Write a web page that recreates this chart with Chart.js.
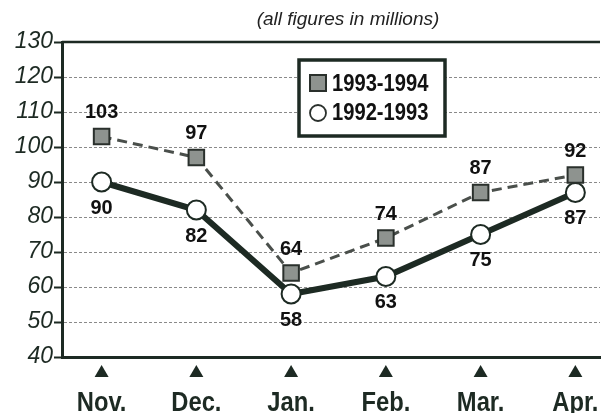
<!DOCTYPE html>
<html>
<head>
<meta charset="utf-8">
<script src="https://cdn.jsdelivr.net/npm/chart.js@4.4.0/dist/chart.umd.min.js"></script>
<style>
  body { margin: 0; background: #fff; }
  canvas { display: block; }
</style>
</head>
<body>
<canvas id="chart" width="613" height="413"></canvas>
<script>
const months = ['Nov.', 'Dec.', 'Jan.', 'Feb.', 'Mar.', 'Apr.'];
const season9394 = [103, 97, 64, 74, 87, 92];
const season9293 = [90, 82, 58, 63, 75, 87];
const yTicks = [40, 50, 60, 70, 80, 90, 100, 110, 120, 130];
const seriesNames = ['1993-1994', '1992-1993'];
const subtitle = '(all figures in millions)';

const ink = '#1d2a23';
const sans = 'Arial, "Liberation Sans", sans-serif';

// draws text squeezed horizontally, to get the condensed look of the original
function narrowText(ctx, text, x, y, squeeze) {
    ctx.save();
    ctx.translate(x, y);
    ctx.scale(squeeze, 1);
    ctx.fillText(text, 0, 0);
    ctx.restore();
}

const overlay = {
    id: 'overlay',
    afterDraw(chart) {
        const ctx = chart.ctx;
        const area = chart.chartArea;
        const x = chart.scales.x;
        const y = chart.scales.y;

        ctx.save();
        // subtitle
        ctx.fillStyle = '#222';
        ctx.font = 'italic 19px ' + sans;
        ctx.textAlign = 'center';
        ctx.textBaseline = 'middle';
        ctx.fillText(subtitle, 348, 20);

        // top rule at 130
        ctx.strokeStyle = ink;
        ctx.lineWidth = 2.5;
        ctx.beginPath();
        ctx.moveTo(area.left, y.getPixelForValue(130));
        ctx.lineTo(area.right, y.getPixelForValue(130));
        ctx.stroke();

        // triangles + month labels
        months.forEach((m, i) => {
            const px = x.getPixelForValue(i);
            ctx.fillStyle = ink;
            ctx.beginPath();
            ctx.moveTo(px, 365);
            ctx.lineTo(px + 7, 377);
            ctx.lineTo(px - 7, 377);
            ctx.closePath();
            ctx.fill();
            ctx.font = 'bold 27px ' + sans;
            ctx.textAlign = 'center';
            ctx.textBaseline = 'alphabetic';
            narrowText(ctx, m, px, 411, 0.88);
        });

        // value labels
        ctx.fillStyle = '#111';
        ctx.font = 'bold 21px ' + sans;
        ctx.textBaseline = 'middle';
        chart.getDatasetMeta(0).data.forEach((pt, i) => {
            narrowText(ctx, String(season9394[i]), pt.x, pt.y - 24, 0.95);
        });
        chart.getDatasetMeta(1).data.forEach((pt, i) => {
            narrowText(ctx, String(season9293[i]), pt.x, pt.y + 26, 0.95);
        });

        // legend box
        ctx.fillStyle = '#fff';
        ctx.fillRect(299, 60, 146, 76);
        ctx.strokeStyle = ink;
        ctx.lineWidth = 3.5;
        ctx.strokeRect(299, 60, 146, 76);

        ctx.fillStyle = '#8e938f';
        ctx.fillRect(310, 75, 16, 16);
        ctx.strokeStyle = '#2a302c';
        ctx.lineWidth = 2;
        ctx.strokeRect(310, 75, 16, 16);

        ctx.fillStyle = '#fff';
        ctx.beginPath();
        ctx.arc(318, 113, 8, 0, Math.PI * 2);
        ctx.fill();
        ctx.lineWidth = 1.8;
        ctx.stroke();

        ctx.fillStyle = '#111';
        ctx.font = 'bold 24px ' + sans;
        ctx.textAlign = 'left';
        narrowText(ctx, seriesNames[0], 332, 84, 0.84);
        narrowText(ctx, seriesNames[1], 332, 113, 0.84);
        ctx.restore();
    }
};

new Chart(document.getElementById('chart'), {
    type: 'line',
    data: {
        datasets: [
            {
                label: seriesNames[0],
                data: season9394.map((v, i) => ({ x: i, y: v })),
                borderColor: '#4a4f4b',
                borderWidth: 3,
                borderDash: [10, 6],
                pointStyle: 'rect',
                pointRadius: 11,
                pointBackgroundColor: '#8e938f',
                pointBorderColor: '#2a302c',
                pointBorderWidth: 2
            },
            {
                label: seriesNames[1],
                data: season9293.map((v, i) => ({ x: i, y: v })),
                borderColor: ink,
                borderWidth: 6,
                pointStyle: 'circle',
                pointRadius: 9.5,
                pointBackgroundColor: '#fff',
                pointBorderColor: ink,
                pointBorderWidth: 2
            }
        ]
    },
    options: {
        responsive: false,
        animation: false,
        layout: { padding: { top: 42, right: 0, left: 0, bottom: 0 } },
        plugins: { legend: { display: false }, tooltip: { enabled: false } },
        scales: {
            x: {
                type: 'linear',
                min: -0.418,
                max: 5.26,
                afterBuildTicks: (scale) => { scale.ticks = months.map((m, i) => ({ value: i })); },
                afterFit: (scale) => { scale.height = 56; },
                ticks: { display: false },
                grid: { display: false },
                border: { display: true, color: ink, width: 3 }
            },
            y: {
                min: 40,
                max: 130,
                afterBuildTicks: (scale) => { scale.ticks = yTicks.map(v => ({ value: v })); },
                afterFit: (scale) => { scale.width = 62; },
                ticks: {
                    color: ink,
                    padding: 1,
                    font: { family: sans, size: 23, style: 'italic' }
                },
                grid: {
                    color: (c) => (c.tick && (c.tick.value === 130 || c.tick.value === 40)) ? 'rgba(0,0,0,0)' : '#8a8a8a',
                    lineWidth: 1,
                    tickLength: 8,
                    tickColor: ink,
                    tickWidth: 2
                },
                border: { display: true, color: ink, width: 3, dash: [3, 2] }
            }
        }
    },
    plugins: [overlay]
});
</script>
</body>
</html>
